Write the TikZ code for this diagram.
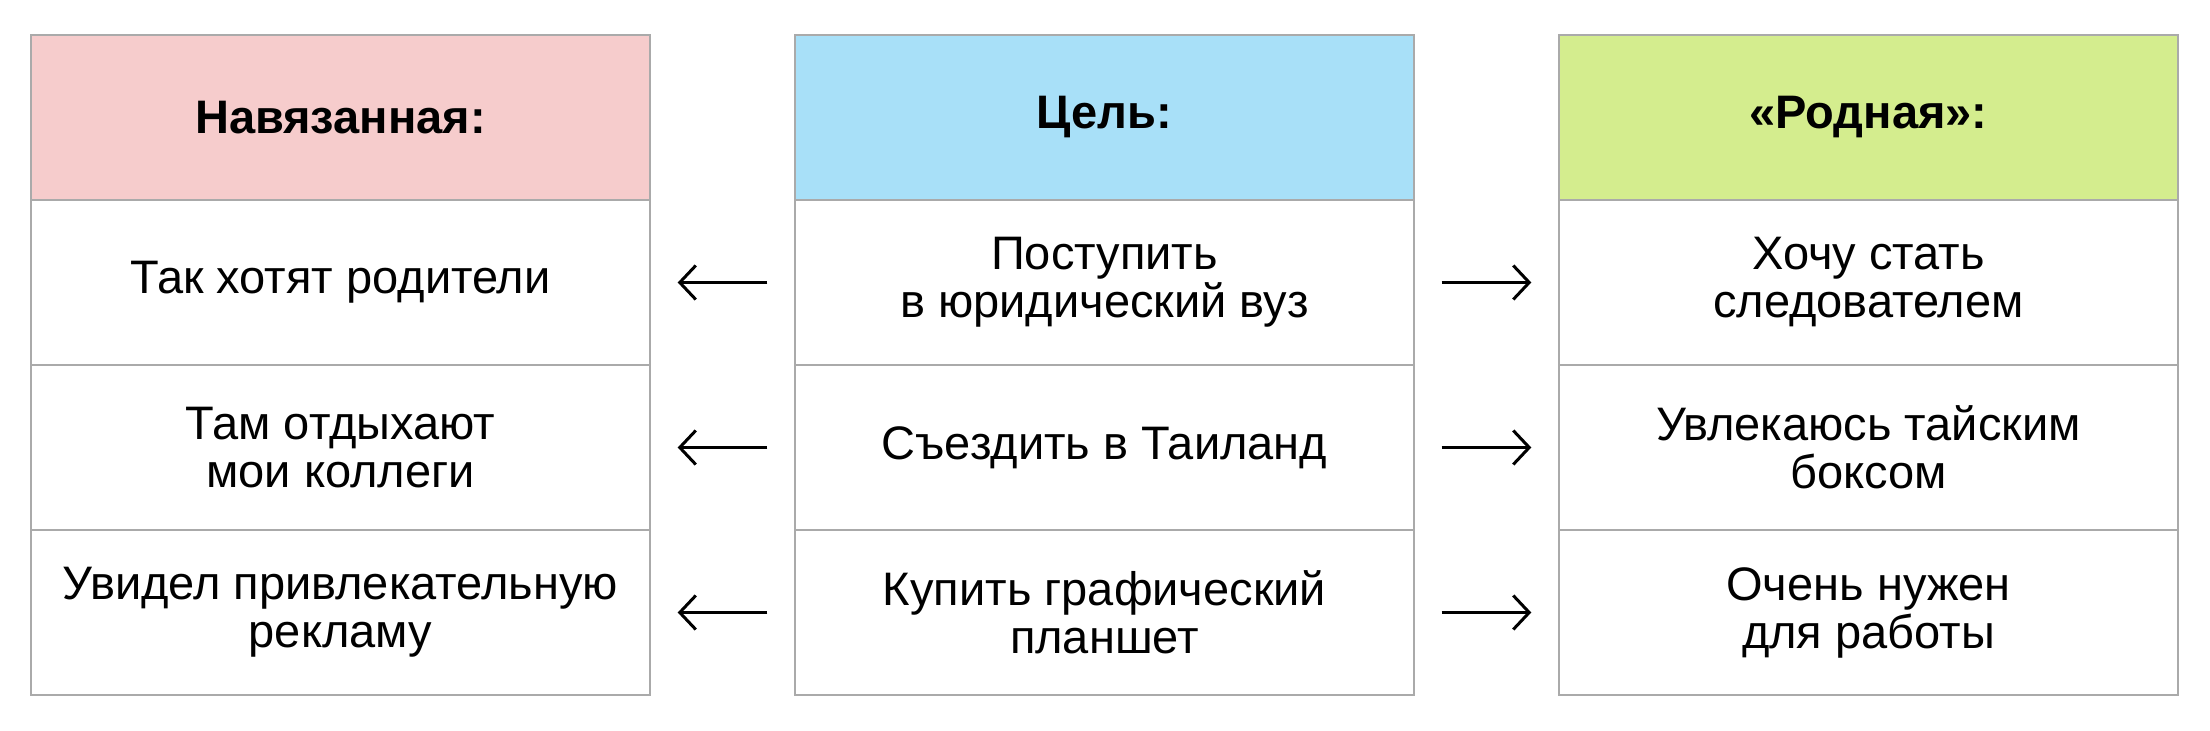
\documentclass[tikz,border=0pt]{standalone}
\usepackage{fontspec}
\setmainfont{Liberation Sans}
\usetikzlibrary{arrows.meta}
\definecolor{pinkhead}{HTML}{F6CCCC}
\definecolor{bluehead}{HTML}{A8E0F8}
\definecolor{greenhead}{HTML}{D4ED8E}
\definecolor{cellline}{HTML}{AAAAAA}
\begin{document}
\begin{tikzpicture}[x=0.5pt, y=-0.5pt,
  cell/.style = {draw=cellline, line width=0.7pt, minimum width=309.5pt, minimum height=82.5pt,
    align=center, font=\fontsize{23.5}{24}\selectfont, inner sep=0pt},
  head/.style = {cell, font=\fontsize{23.5}{24}\selectfont\bfseries},
  arr/.style = {-{Straight Barb[length=8pt, width=17pt]}, line width=1.5pt, shorten <=13.5pt, shorten >=13.5pt}]
  \useasboundingbox (0,0) rectangle (2210,731);
  % headers
  \node[head, fill=pinkhead] (l0) at (340.5,117.5) {Навязанная:};
  \node[head, fill=bluehead] (m0) at (1104.5,117.5) {Цель:};
  \node[head, fill=greenhead] (r0) at (1868.5,117.5) {«Родная»:};
  % left column
  \node[cell] (l1) at (340.5,282.5) {Так хотят родители};
  \node[cell] (l2) at (340.5,447.5) {Там отдыхают\\мои коллеги};
  \node[cell] (l3) at (340.5,612.5) {Увидел привлекательную\\рекламу};
  % middle column
  \node[cell] (m1) at (1104.5,282.5) {Поступить\\в юридический вуз};
  \node[cell] (m2) at (1104.5,447.5) {Съездить в Таиланд};
  \node[cell] (m3) at (1104.5,612.5) {Купить графический\\планшет};
  % right column
  \node[cell] (r1) at (1868.5,282.5) {Хочу стать\\следователем};
  \node[cell] (r2) at (1868.5,447.5) {Увлекаюсь тайским\\боксом};
  \node[cell] (r3) at (1868.5,612.5) {Очень нужен\\для работы};

  \draw[arr] (m1.west) -- (l1.east);
  \draw[arr] (m2.west) -- (l2.east);
  \draw[arr] (m3.west) -- (l3.east);
  \draw[arr] (m1.east) -- (r1.west);
  \draw[arr] (m2.east) -- (r2.west);
  \draw[arr] (m3.east) -- (r3.west);
\end{tikzpicture}
\end{document}
